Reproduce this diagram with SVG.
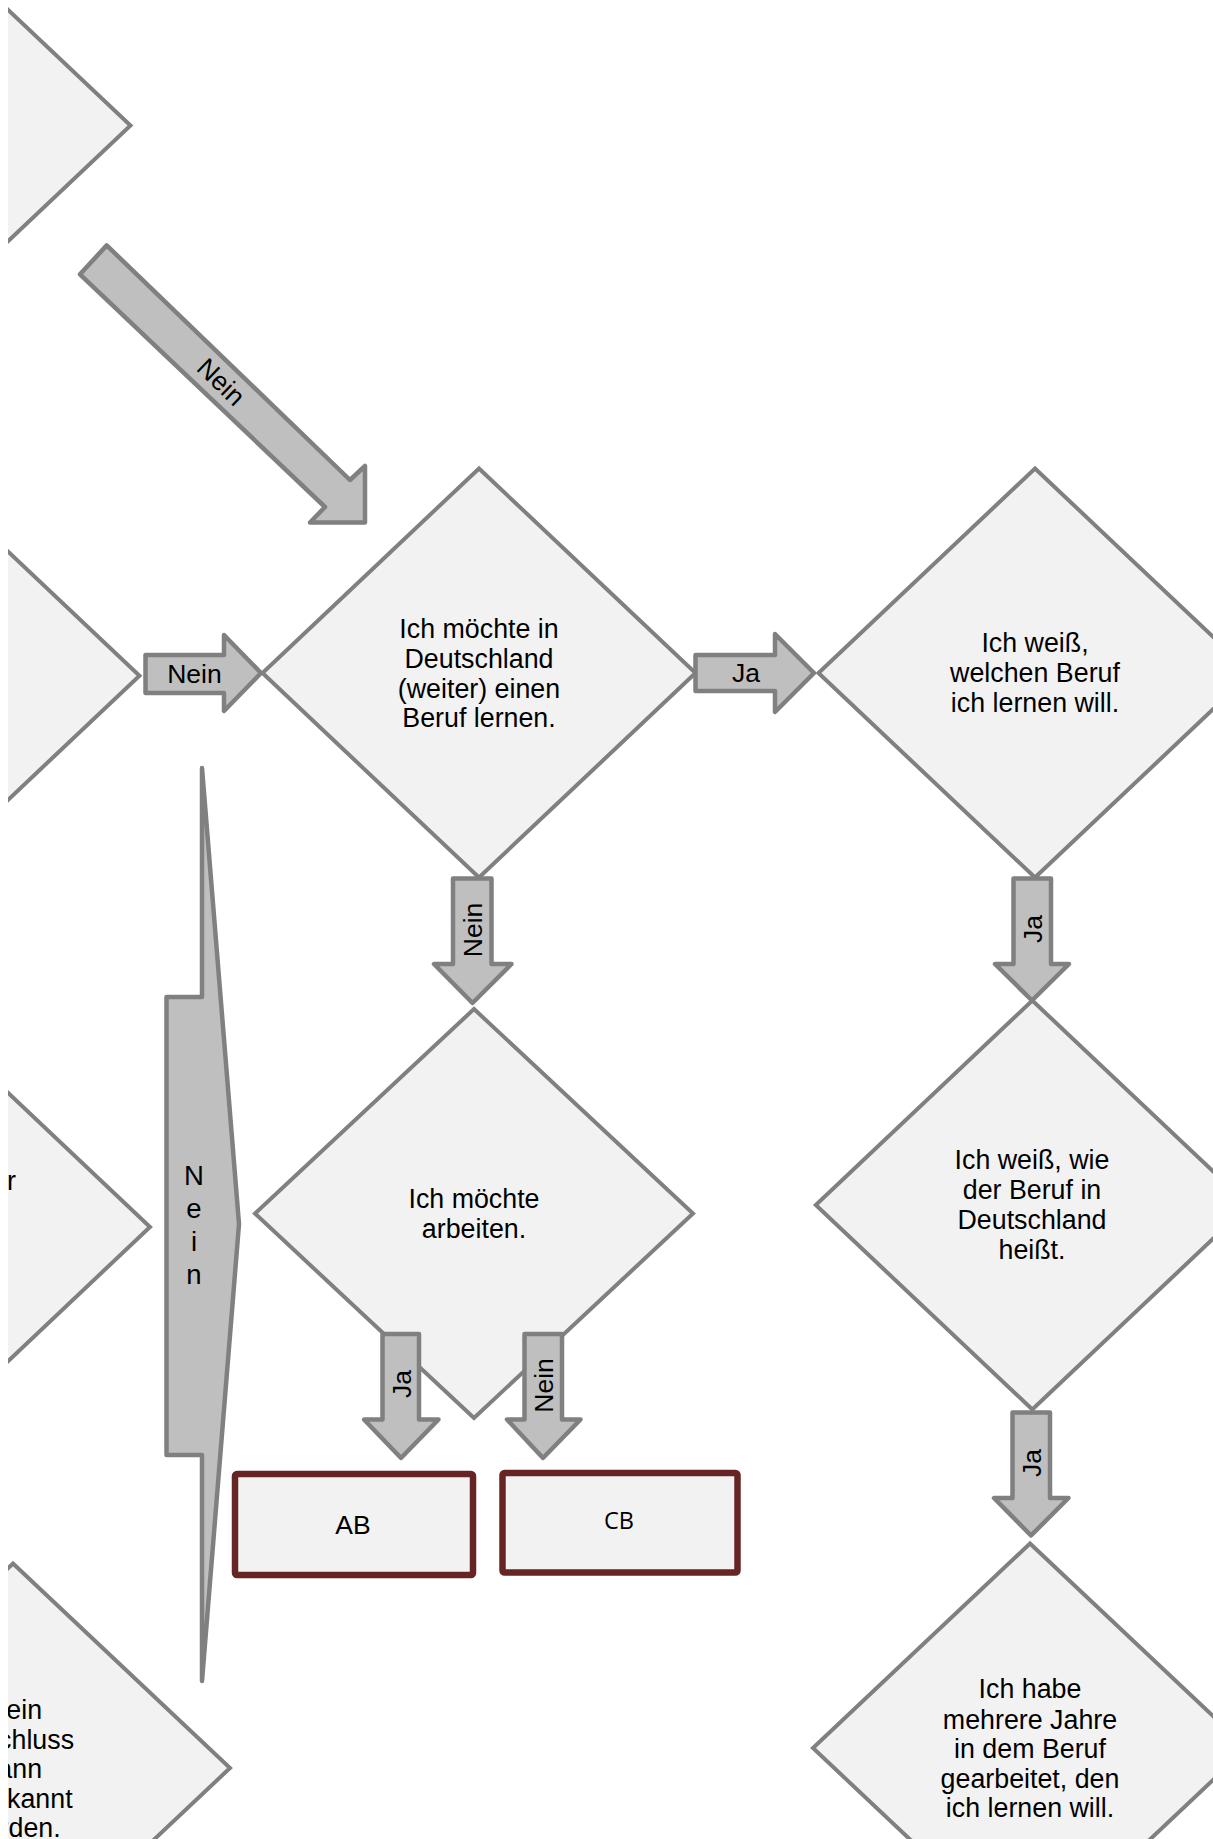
<svg xmlns="http://www.w3.org/2000/svg" width="1213" height="1839" viewBox="0 0 1213 1839">
<defs>
<clipPath id="view"><rect x="8" y="0" width="1205" height="1839"/></clipPath>
<style>
.dia{fill:#f2f2f2;stroke:#808080;stroke-width:4;stroke-linejoin:miter}
.arr{fill:#bfbfbf;stroke:#808080;stroke-width:4.5;stroke-linejoin:round}
.box{fill:#f2f2f2;stroke:#662424;stroke-width:6.5;stroke-linejoin:round}
.t{font-family:"Liberation Sans",Arial,sans-serif;font-size:26.8px;fill:#000;text-anchor:middle}
.lbl{font-family:"Liberation Sans",Arial,sans-serif;font-size:26.5px;fill:#000;text-anchor:middle}
.cb{font-family:"Open Sans","Noto Sans",sans-serif;font-size:23.5px;fill:#000;text-anchor:middle}
</style>
</defs>
<rect width="1213" height="1839" fill="#ffffff"/>
<g clip-path="url(#view)">
<g id="nodes">
<g id="L1"><polygon class="dia" points="-86,-79 130.5,125.5 -86,330 -302.5,125.5"/></g>
<g id="L2"><polygon class="dia" points="-77,471.2 139.5,675.7 -77,880.2 -293.5,675.7"/></g>
<g id="L3"><polygon class="dia" points="-66.5,1022.5 150,1227 -66.5,1431.5 -283,1227"/>
<text class="t" x="16" y="1190" style="text-anchor:end">er</text></g>
<g id="L4"><polygon class="dia" points="13,1563.5 230,1768 13,1972.5 -204,1768"/>
<text class="t"><tspan x="13" y="1719">Mein</tspan><tspan x="13" y="1749">Abschluss</tspan><tspan x="13" y="1778">kann</tspan><tspan x="13" y="1808">anerkannt</tspan><tspan x="13" y="1837">werden.</tspan></text></g>
<g id="D1"><polygon class="dia" points="479,468.5 695.5,673 479,877.5 262.5,673"/>
<text class="t"><tspan x="479" y="637.5">Ich möchte in</tspan><tspan x="479" y="667.5">Deutschland</tspan><tspan x="479" y="697.5">(weiter) einen</tspan><tspan x="479" y="727">Beruf lernen.</tspan></text></g>
<g id="D2"><polygon class="dia" points="1035,468.5 1251.5,673 1035,877.5 818.5,673"/>
<text class="t"><tspan x="1035" y="652">Ich weiß,</tspan><tspan x="1035" y="682">welchen Beruf</tspan><tspan x="1035" y="712">ich lernen will.</tspan></text></g>
<g id="D3"><polygon class="dia" points="474,1009 693,1213.5 474,1418 255,1213.5"/>
<text class="t"><tspan x="474" y="1208">Ich möchte</tspan><tspan x="474" y="1237.5">arbeiten.</tspan></text></g>
<g id="D4"><polygon class="dia" points="1032.3,1000.5 1248.8,1205 1032.3,1409.5 815.8,1205"/>
<text class="t"><tspan x="1032" y="1169">Ich weiß, wie</tspan><tspan x="1032" y="1199">der Beruf in</tspan><tspan x="1032" y="1229">Deutschland</tspan><tspan x="1032" y="1258.5">heißt.</tspan></text></g>
<g id="D5"><polygon class="dia" points="1030,1543.5 1247,1748 1030,1952.5 813,1748"/>
<text class="t"><tspan x="1030" y="1698">Ich habe</tspan><tspan x="1030" y="1728.5">mehrere Jahre</tspan><tspan x="1030" y="1758">in dem Beruf</tspan><tspan x="1030" y="1787.5">gearbeitet, den</tspan><tspan x="1030" y="1817">ich lernen will.</tspan></text></g>
<g id="AB"><rect class="box" x="235" y="1474" width="238" height="101" rx="2"/>
<text class="lbl" x="353" y="1534">AB</text></g>
<g id="CB"><rect class="box" x="502.5" y="1473" width="235" height="99.5" rx="2"/>
<text class="cb" x="619" y="1529">CB</text></g>
</g>
<g id="connectors">
<g id="c-diag"><polygon class="arr" points="106.7,245.4 350,480 365,466 365,522.5 310,522.5 325,507 80,274.3"/>
<text class="lbl" transform="translate(221,382) rotate(44)" x="0" y="9">Nein</text></g>
<g id="c-nein-h"><path class="arr" d="M145.5,655 H224 V635 L261,673 L224,711 V693 H145.5 Z"/>
<text class="lbl" x="194.5" y="682.5">Nein</text></g>
<g id="c-ja-h"><path class="arr" d="M695.5,655 H775 V634 L814,673 L775,712 V691 H695.5 Z"/>
<text class="lbl" x="746" y="681.5">Ja</text></g>
<g id="c-nein-d1"><path class="arr" d="M453,878.5 H491.5 V964 H511.5 L472.5,1003 L434,964 H453 Z"/>
<text class="lbl" transform="translate(472.5,930) rotate(-90)" x="0" y="9.5">Nein</text></g>
<g id="c-ja-d2"><path class="arr" d="M1013.5,878.5 H1051 V964 H1069 L1032,1000.5 L995,964 H1013.5 Z"/>
<text class="lbl" transform="translate(1032,929) rotate(-90)" x="0" y="9.5">Ja</text></g>
<g id="c-ja-d4"><path class="arr" d="M1012.5,1412.5 H1050 V1498 H1068.5 L1031,1535.5 L994,1498 H1012.5 Z"/>
<text class="lbl" transform="translate(1031,1463) rotate(-90)" x="0" y="9.5">Ja</text></g>
<g id="c-ja-ab"><path class="arr" d="M382.5,1334 H419 V1419.5 H438.5 L401,1458 L364,1419.5 H382.5 Z"/>
<text class="lbl" transform="translate(401,1384) rotate(-90)" x="0" y="9.5">Ja</text></g>
<g id="c-nein-cb"><path class="arr" d="M524.5,1334 H562 V1419.5 H580.5 L543,1458 L507,1419.5 H524.5 Z"/>
<text class="lbl" transform="translate(543,1385.5) rotate(-90)" x="0" y="9.5">Nein</text></g>
<g id="c-nein-big"><path class="arr" d="M166.5,997 H202 V768 L239,1224 L202,1681 V1455 H166.5 Z"/>
<text class="lbl" style="font-size:27.5px"><tspan x="194" y="1185">N</tspan><tspan x="194" y="1218">e</tspan><tspan x="194" y="1251">i</tspan><tspan x="194" y="1284">n</tspan></text></g>
</g>
</g>
</svg>
